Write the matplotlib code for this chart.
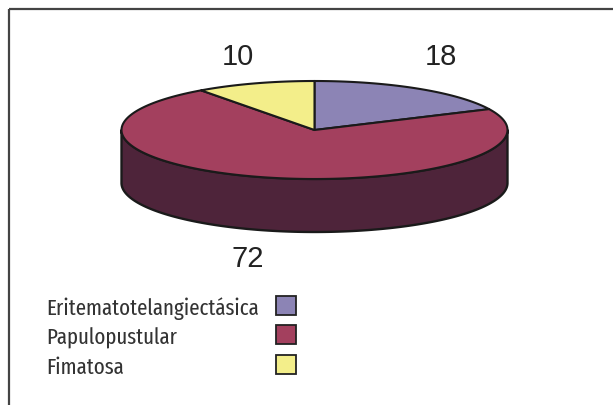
import numpy as np
import matplotlib
matplotlib.use('Agg')
import matplotlib.pyplot as plt
from matplotlib.patches import Polygon, Rectangle

labels = ['Eritematotelangiectásica', 'Papulopustular', 'Fimatosa']
values = [18, 72, 10]
top_colors = ['#8C84B5', '#A3405E', '#F3EE8A']
side_colors = ['#463F66', '#4E243A', '#7A7645']

# pie geometry in pixel space
cx, cy = 314.5, 131.0
rx, ry = 193.0, 49.0
depth = 53.0
label_pos = [(441, 57), (248, 259), (237.5, 57)]


def ellipse_pts(a0, a1, dy=0.0, n=200):
    # angles in degrees, clockwise from 12 o'clock
    t = np.radians(np.linspace(a0, a1, n))
    return np.column_stack([cx + rx * np.sin(t), cy - ry * np.cos(t) + dy])


fig = plt.figure(figsize=(6.13, 4.06), dpi=100)
ax = fig.add_axes([0, 0, 1, 1])
ax.set_xlim(0, 613)
ax.set_ylim(406, 0)
ax.axis('off')

# frame (only top and left edges are visible)
ax.plot([9, 613], [10, 10], color='#444444', lw=1.6, solid_capstyle='butt')
ax.plot([9, 9], [10, 406], color='#444444', lw=1.6, solid_capstyle='butt')

total = float(sum(values))
bounds = np.concatenate([[0], np.cumsum(values) / total * 360.0])

# side walls (front half: 90..270 deg)
for i in range(len(values)):
    a0, a1 = max(bounds[i], 90), min(bounds[i + 1], 270)
    if a1 <= a0:
        continue
    top = ellipse_pts(a0, a1)
    bot = ellipse_pts(a1, a0, dy=depth)
    ax.add_patch(Polygon(np.vstack([top, bot]), closed=True,
                         facecolor=side_colors[i], edgecolor='#1a1a1a',
                         lw=1.7, joinstyle='round'))

# top faces
for i in range(len(values)):
    pts = np.vstack([[cx, cy], ellipse_pts(bounds[i], bounds[i + 1])])
    ax.add_patch(Polygon(pts, closed=True, facecolor=top_colors[i],
                         edgecolor='#1a1a1a', lw=1.5, joinstyle='round'))

# value labels
for v, (lx, ly) in zip(values, label_pos):
    ax.text(lx, ly, str(v), ha='center', va='center', fontsize=21,
            family=['Liberation Sans', 'DejaVu Sans'], color='#222222')

# legend
for i, lab in enumerate(labels):
    yb = 315 + i * 29.5
    ax.text(46.5, yb, lab, ha='left', va='baseline', fontsize=16.4,
            family=['Fira Sans Extra Condensed', 'DejaVu Sans'], weight='normal',
            color='#333333')
    ax.add_patch(Rectangle((276, yb - 18.5), 19.5, 19, facecolor=top_colors[i],
                           edgecolor='#222222', lw=1.3))

fig.savefig('out.png', dpi=100)
